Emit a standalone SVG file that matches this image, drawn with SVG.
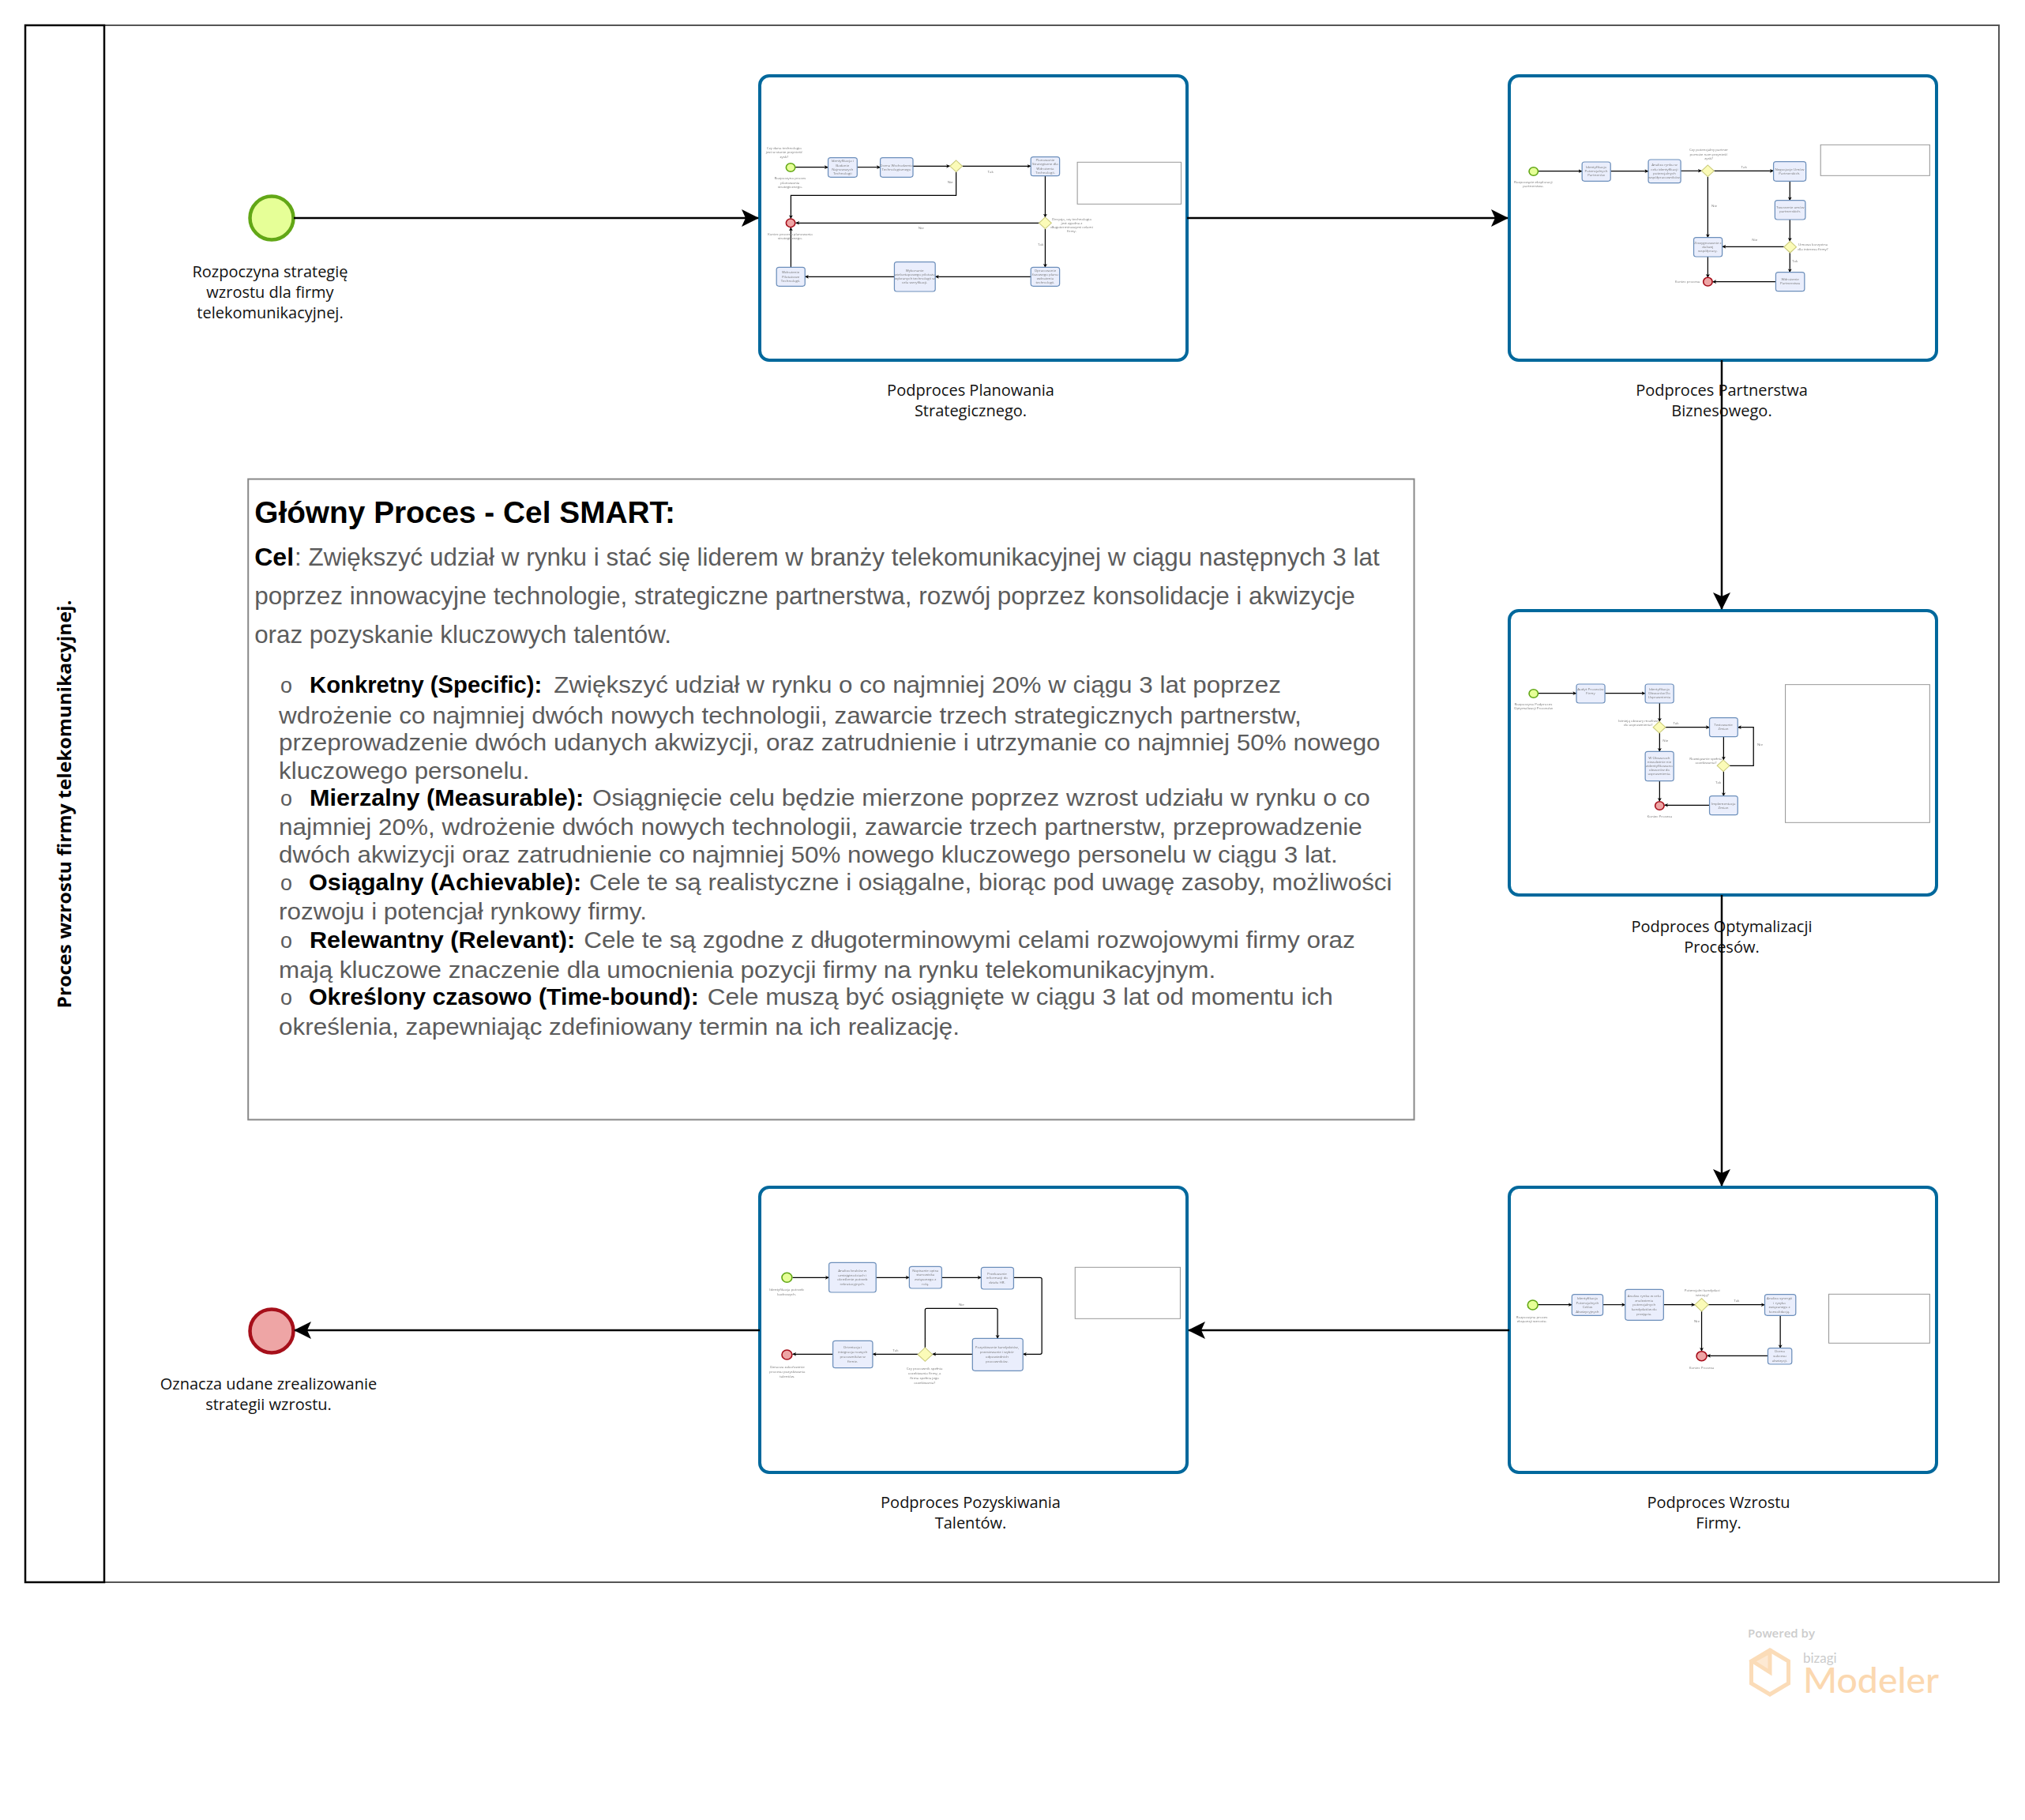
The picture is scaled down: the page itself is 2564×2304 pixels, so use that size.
<svg xmlns="http://www.w3.org/2000/svg" width="2564" height="2304" viewBox="0 0 2564 2304">
<style>
text{font-family:"Open Sans","Noto Sans","Liberation Sans",sans-serif}
.lb{font-size:20px;fill:#111;text-anchor:middle}
.sub{fill:#fff;stroke:#00689c;stroke-width:4}
.box{fill:#fff;stroke:#999;stroke-width:3}
.st{fill:#e6ff97;stroke:#62a716;stroke-width:4.5}
.en{fill:#eea5a5;stroke:#a60f1a;stroke-width:4.5}
.task{fill:#eaeefc;stroke:#6c8fbb;stroke-width:3.5}
.gw{fill:#fbfbb8;stroke:#c9c97a;stroke-width:3}
.t{font-size:12.5px;fill:#777;text-anchor:middle}
.ci{fill:none;stroke:#000;stroke-width:3.5;marker-end:url(#ai)}
.mn{fill:none;stroke:#000;stroke-width:2.5;marker-end:url(#am)}
.im{font-family:"Liberation Sans",Arial,sans-serif;font-size:30px;fill:#5c5c5c}
.imc{font-family:"Liberation Sans",Arial,sans-serif;font-size:32px;fill:#5c5c5c}
.imb{font-family:"Liberation Sans",Arial,sans-serif;font-size:30px;fill:#000;font-weight:bold}
.bu{font-family:"Liberation Sans",Arial,sans-serif;font-size:27px;fill:#5c5c5c}
.hd{font-family:"Liberation Sans",Arial,sans-serif;font-size:39px;fill:#000;font-weight:bold}
</style>
<defs>
<marker id="am" markerUnits="userSpaceOnUse" markerWidth="24" markerHeight="24" refX="21" refY="11" orient="auto"><path d="M0,0L22,11L0,22L5,11Z" fill="#000"/></marker>
<marker id="ai" markerUnits="userSpaceOnUse" markerWidth="16" markerHeight="16" refX="13" refY="7" orient="auto"><path d="M0,0L14,7L0,14L4,7Z" fill="#000"/></marker>
<filter id="soft" x="-5%" y="-5%" width="110%" height="110%"><feGaussianBlur stdDeviation="0.35"/></filter>
</defs>
<rect width="2564" height="2304" fill="#fff"/>
<g id="pool">
<rect x="132" y="32" width="2399" height="1971" fill="#fff" stroke="#555" stroke-width="2"/>
<rect x="32" y="32" width="100" height="1971" fill="#fff" stroke="#000" stroke-width="2.5"/>
<text transform="translate(90,1018) rotate(-90)" text-anchor="middle" font-size="23" font-weight="bold" fill="#000" textLength="517" lengthAdjust="spacingAndGlyphs">Proces wzrostu firmy telekomunikacyjnej.</text>
</g>
<g id="start-main"><circle class="st" cx="344" cy="276" r="27.5"/>
<text class="lb" x="342" y="351">Rozpoczyna strategię</text><text class="lb" x="342" y="377">wzrostu dla firmy</text><text class="lb" x="342" y="403">telekomunikacyjnej.</text></g>
<g id="end-main"><circle class="en" cx="344" cy="1685" r="27.5"/>
<text class="lb" x="340" y="1759">Oznacza udane zrealizowanie</text><text class="lb" x="340" y="1785">strategii wzrostu.</text></g>

<g id="sub1">
<rect class="sub" x="962" y="96" width="541" height="360" rx="12"/>
<text class="lb" x="1229" y="501">Podproces Planowania</text><text class="lb" x="1229" y="527">Strategicznego.</text>
<g transform="translate(960,90) scale(.357,.3333)" filter="url(#soft)">
<rect class="box" x="1132" y="346" width="368" height="159"/>
<g class="inner-connectors">
<path class="ci" d="M132,365H248"/><path class="ci" d="M351,365H433"/><path class="ci" d="M549,361H680"/><path class="ci" d="M724,361H967"/>
<path class="ci" d="M702,383V472H116V560"/><path class="ci" d="M1018,398V555"/><path class="ci" d="M997,577H133"/><path class="ci" d="M1018,599V745"/>
<path class="ci" d="M967,781H628"/><path class="ci" d="M483,781H166"/><path class="ci" d="M116,745V594"/>
</g>
<g id="s1-start"><circle class="st" cx="115" cy="366" r="16"/><text class="t" x="92" y="297">Czy dana technologia</text><text class="t" x="92" y="313">jest w stanie przynieść</text><text class="t" x="92" y="329">zysk?</text><text class="t" x="113" y="412">Rozpoczyna proces</text><text class="t" x="113" y="428">planowania</text><text class="t" x="113" y="444">strategicznego.</text></g>
<g id="s1-t1"><rect class="task" x="248" y="329" width="103" height="74" rx="9"/><text class="t" x="299" y="346">Identyfikacja i</text><text class="t" x="299" y="362">Badanie</text><text class="t" x="299" y="378">Najnowszych</text><text class="t" x="299" y="394">Technologii</text></g>
<g id="s1-t2"><rect class="task" x="433" y="329" width="116" height="74" rx="9"/><text class="t" x="490" y="362">Ocena Wschodzenia</text><text class="t" x="490" y="378">Technologicznego</text></g>
<g id="s1-g1"><path class="gw" d="M702,339L724,361L702,383L680,361Z"/></g>
<g id="s1-t3"><rect class="task" x="967" y="326" width="102" height="72" rx="9"/><text class="t" x="1018" y="342">Planowanie</text><text class="t" x="1018" y="358">Strategiczne dla</text><text class="t" x="1018" y="374">Wdrożenia</text><text class="t" x="1018" y="390">Technologii.</text></g>
<g id="s1-g2"><path class="gw" d="M1018,555L1040,577L1018,599L996,577Z"/><text class="t" x="1112" y="567">Decyzja, czy technologia</text><text class="t" x="1112" y="583">jest zgodna z</text><text class="t" x="1112" y="598">długoterminowymi celami</text><text class="t" x="1112" y="613">firmy.</text></g>
<g id="s1-end"><circle class="en" cx="115" cy="577" r="16"/><text class="t" x="113" y="624">Koniec procesu planowania</text><text class="t" x="113" y="640">strategicznego.</text></g>
<g id="s1-t4"><rect class="task" x="967" y="745" width="102" height="72" rx="9"/><text class="t" x="1018" y="762">Opracowanie</text><text class="t" x="1018" y="778">fazowego planu</text><text class="t" x="1018" y="793">wdrożenia</text><text class="t" x="1018" y="808">technologii.</text></g>
<g id="s1-t5"><rect class="task" x="483" y="725" width="145" height="112" rx="9"/><text class="t" x="555" y="761">Wykonanie</text><text class="t" x="555" y="777">wieloetapowego pilotażu</text><text class="t" x="555" y="793">wybranych technologii w</text><text class="t" x="555" y="808">celu weryfikacji.</text></g>
<g id="s1-t6"><rect class="task" x="65" y="745" width="101" height="72" rx="9"/><text class="t" x="115" y="769">Wdrożenie</text><text class="t" x="115" y="785">Pilotażowe</text><text class="t" x="115" y="801">Technologii.</text></g>
<text class="t" x="824" y="387">Tak</text><text class="t" x="681" y="427">Nie</text><text class="t" x="578" y="599">Nie</text><text class="t" x="1002" y="664">Tak</text>
</g>
</g>

<g id="sub2">
<rect class="sub" x="1911" y="96" width="541" height="360" rx="12"/>
<text class="lb" x="2180" y="501">Podproces Partnerstwa</text><text class="lb" x="2180" y="527">Biznesowego.</text>
<g transform="translate(1910,90) scale(.357,.3333)" filter="url(#soft)">
<rect class="box" x="1107" y="280" width="387" height="117"/>
<g class="inner-connectors">
<path class="ci" d="M106,380H261"/><path class="ci" d="M362,380H496"/><path class="ci" d="M611,379H685"/><path class="ci" d="M729,379H940"/>
<path class="ci" d="M707,401V632"/><path class="ci" d="M998,418V491"/><path class="ci" d="M998,564V646"/><path class="ci" d="M998,690V764"/>
<path class="ci" d="M977,667H758"/><path class="ci" d="M707,705V784"/><path class="ci" d="M948,800H724"/>
</g>
<g id="s2-start"><circle class="st" cx="89" cy="381" r="16"/><text class="t" x="88" y="426">Rozpoczęcie eksploracji</text><text class="t" x="88" y="442">partnerstwa.</text></g>
<g id="s2-t1"><rect class="task" x="261" y="345" width="101" height="73" rx="9"/><text class="t" x="311" y="369">Identyfikacja</text><text class="t" x="311" y="385">Potencjalnych</text><text class="t" x="311" y="400">Partnerów</text></g>
<g id="s2-t2"><rect class="task" x="496" y="336" width="115" height="89" rx="9"/><text class="t" x="553" y="361">Analiza rynku w</text><text class="t" x="553" y="377">celu identyfikacji</text><text class="t" x="553" y="392">potencjalnych</text><text class="t" x="553" y="408">współpracowników.</text></g>
<g id="s2-g1"><path class="gw" d="M707,357L729,379L707,401L685,379Z"/><text class="t" x="710" y="304">Czy potencjalny partner</text><text class="t" x="710" y="320">pomoże nam przynieść</text><text class="t" x="710" y="335">zysk?</text></g>
<g id="s2-t3"><rect class="task" x="940" y="344" width="115" height="74" rx="9"/><text class="t" x="997" y="377">Negocjacje Umów</text><text class="t" x="997" y="392">Partnerskich.</text></g>
<g id="s2-t4"><rect class="task" x="945" y="491" width="108" height="73" rx="9"/><text class="t" x="999" y="523">Tworzenie umów</text><text class="t" x="999" y="538">partnerskich.</text></g>
<g id="s2-g2"><path class="gw" d="M999,646L1021,668L999,690L977,668Z"/><text class="t" x="1080" y="664">Umowa korzystna</text><text class="t" x="1080" y="680">dla interesu firmy?</text></g>
<g id="s2-t5"><rect class="task" x="657" y="632" width="101" height="73" rx="9"/><text class="t" x="707" y="656">Zrezygnowanie z</text><text class="t" x="707" y="672">dalszej</text><text class="t" x="707" y="688">współpracy.</text></g>
<g id="s2-t6"><rect class="task" x="948" y="764" width="102" height="72" rx="9"/><text class="t" x="999" y="796">Wdrożenie</text><text class="t" x="999" y="811">Partnerstwa</text></g>
<g id="s2-end"><circle class="en" cx="707" cy="800" r="16"/><text class="t" x="635" y="804">Koniec procesu</text></g>
<text class="t" x="835" y="369">Tak</text><text class="t" x="730" y="517">Nie</text><text class="t" x="1016" y="725">Tak</text><text class="t" x="873" y="646">Nie</text>
</g>
</g>

<g id="sub3">
<rect class="sub" x="1911" y="773" width="541" height="360" rx="12"/>
<text class="lb" x="2180" y="1180">Podproces Optymalizacji</text><text class="lb" x="2180" y="1206">Procesów.</text>
<g transform="translate(1910,770) scale(.357,.3333)" filter="url(#soft)">
<rect class="box" x="982" y="290" width="512" height="524"/>
<g class="inner-connectors">
<path class="ci" d="M106,323H241"/><path class="ci" d="M342,323H485"/><path class="ci" d="M536,360V430"/><path class="ci" d="M557,452H713"/>
<path class="ci" d="M536,474V544"/><path class="ci" d="M763,488V576"/><path class="ci" d="M784,598H869V452H813"/><path class="ci" d="M763,620V713"/>
<path class="ci" d="M536,656V733"/><path class="ci" d="M713,748H553"/>
</g>
<g id="s3-start"><circle class="st" cx="89" cy="324" r="16"/><text class="t" x="88" y="369">Rozpoczyna Podproces</text><text class="t" x="88" y="384">Optymalizacji Procesów</text></g>
<g id="s3-t1"><rect class="task" x="241" y="288" width="101" height="72" rx="9"/><text class="t" x="291" y="312">Audyt Procesów</text><text class="t" x="291" y="327">Firmy</text></g>
<g id="s3-t2"><rect class="task" x="485" y="288" width="101" height="72" rx="9"/><text class="t" x="535" y="312">Identyfikacja</text><text class="t" x="535" y="327">Obszarów Do</text><text class="t" x="535" y="343">Usprawnienia</text></g>
<g id="s3-g1"><path class="gw" d="M535,430L557,452L535,474L513,452Z"/><text class="t" x="460" y="431">Istnieją obszary możliwe</text><text class="t" x="460" y="446">do usprawnienia?</text></g>
<g id="s3-t3"><rect class="task" x="713" y="416" width="100" height="72" rx="9"/><text class="t" x="762" y="448">Testowanie</text><text class="t" x="762" y="463">Zmian</text></g>
<g id="s3-t4"><rect class="task" x="485" y="544" width="101" height="112" rx="9"/><text class="t" x="535" y="572">W Obszarach</text><text class="t" x="535" y="587">niezależnie nie</text><text class="t" x="535" y="603">zidentyfikowano</text><text class="t" x="535" y="618">obszarów do</text><text class="t" x="535" y="634">usprawnienia.</text></g>
<g id="s3-g2"><path class="gw" d="M762,576L784,598L762,620L740,598Z"/><text class="t" x="700" y="577">Rozwiązanie spełnia</text><text class="t" x="700" y="592">oczekiwania?</text></g>
<g id="s3-t5"><rect class="task" x="713" y="713" width="100" height="72" rx="9"/><text class="t" x="762" y="746">Implementacja</text><text class="t" x="762" y="761">Zmian</text></g>
<g id="s3-end"><circle class="en" cx="536" cy="750" r="16"/><text class="t" x="536" y="795">Koniec Procesu</text></g>
<text class="t" x="594" y="442">Tak</text><text class="t" x="557" y="507">Nie</text><text class="t" x="892" y="522">Nie</text><text class="t" x="744" y="665">Tak</text>
</g>
</g>

<g id="sub4">
<rect class="sub" x="1911" y="1503" width="541" height="361" rx="12"/>
<text class="lb" x="2176" y="1909">Podproces Wzrostu</text><text class="lb" x="2176" y="1935">Firmy.</text>
<g transform="translate(1910,1500) scale(.357,.3333)" filter="url(#soft)">
<rect class="box" x="1136" y="415" width="358" height="186"/>
<g class="inner-connectors">
<path class="ci" d="M104,455H225"/><path class="ci" d="M335,455H414"/><path class="ci" d="M550,455H661"/><path class="ci" d="M709,455H909"/>
<path class="ci" d="M685,480V631"/><path class="ci" d="M964,496V620"/><path class="ci" d="M920,649H704"/>
</g>
<g id="s4-start"><circle class="st" cx="86" cy="456" r="18"/><text class="t" x="83" y="506">Rozpoczyna proces</text><text class="t" x="83" y="523">ekspansji wzrostu.</text></g>
<g id="s4-t1"><rect class="task" x="225" y="416" width="110" height="80" rx="9"/><text class="t" x="280" y="435">Identyfikacja</text><text class="t" x="280" y="452">Potencjalnych</text><text class="t" x="280" y="469">Celów</text><text class="t" x="280" y="486">Akwizycyjnych</text></g>
<g id="s4-t2"><rect class="task" x="414" y="397" width="136" height="117" rx="9"/><text class="t" x="481" y="426">Analiza rynku w celu</text><text class="t" x="481" y="443">znalezienia</text><text class="t" x="481" y="460">potencjalnych</text><text class="t" x="481" y="477">kandydatów do</text><text class="t" x="481" y="494">przejęcia.</text></g>
<g id="s4-g1"><path class="gw" d="M685,431L709,455L685,480L661,455Z"/><text class="t" x="687" y="404">Potencjalni kandydaci</text><text class="t" x="687" y="422">istnieją?</text></g>
<g id="s4-t3"><rect class="task" x="909" y="416" width="110" height="80" rx="9"/><text class="t" x="961" y="435">Analiza synergii</text><text class="t" x="961" y="452">i ryzyka</text><text class="t" x="961" y="469">związanego z</text><text class="t" x="961" y="486">konsolidacją.</text></g>
<g id="s4-t4"><rect class="task" x="920" y="620" width="85" height="61" rx="9"/><text class="t" x="962" y="637">Ocena</text><text class="t" x="962" y="654">sukcesu</text><text class="t" x="962" y="671">akwizycji.</text></g>
<g id="s4-end"><circle class="en" cx="685" cy="650" r="18"/><text class="t" x="685" y="698">Koniec Procesu</text></g>
<text class="t" x="809" y="445">Tak</text><text class="t" x="668" y="522">Nie</text>
</g>
</g>

<g id="sub5">
<rect class="sub" x="962" y="1503" width="541" height="361" rx="12"/>
<text class="lb" x="1229" y="1909">Podproces Pozyskiwania</text><text class="lb" x="1229" y="1935">Talentów.</text>
<g transform="translate(960,1500) scale(.357,.3333)" filter="url(#soft)">
<rect class="box" x="1124" y="313" width="373" height="195"/>
<g class="inner-connectors">
<path class="ci" d="M122,352H251"/><path class="ci" d="M418,352H536"/><path class="ci" d="M651,352H791"/><path class="ci" d="M906,352H1000Q1006,352 1006,358V637Q1006,643 1000,643H939"/>
<path class="ci" d="M592,618V475Q592,469 598,469H843Q849,469 849,475V583"/><path class="ci" d="M760,643H618"/><path class="ci" d="M567,643H406"/><path class="ci" d="M265,643H122"/>
</g>
<g id="s5-start"><circle class="st" cx="102" cy="352" r="18"/><text class="t" x="101" y="403">Identyfikacja potrzeb</text><text class="t" x="101" y="421">kadrowych.</text></g>
<g id="s5-t1"><rect class="task" x="251" y="295" width="167" height="113" rx="9"/><text class="t" x="334" y="329">Analiza braków w</text><text class="t" x="334" y="347">umiejętnościach i</text><text class="t" x="334" y="364">określenie potrzeb</text><text class="t" x="334" y="382">rekrutacyjnych.</text></g>
<g id="s5-t2"><rect class="task" x="536" y="310" width="115" height="83" rx="9"/><text class="t" x="593" y="329">Napisanie opisu</text><text class="t" x="593" y="346">stanowiska</text><text class="t" x="593" y="364">związanego z</text><text class="t" x="593" y="382">rolą.</text></g>
<g id="s5-t3"><rect class="task" x="791" y="313" width="115" height="83" rx="9"/><text class="t" x="847" y="341">Przekazanie</text><text class="t" x="847" y="358">informacji do</text><text class="t" x="847" y="375">działu HR.</text></g>
<g id="s5-t4"><rect class="task" x="760" y="583" width="179" height="123" rx="9"/><text class="t" x="847" y="622">Pozyskiwanie kandydatów,</text><text class="t" x="847" y="640">przesiewanie i wybór</text><text class="t" x="847" y="657">odpowiednich</text><text class="t" x="847" y="675">pracowników.</text></g>
<g id="s5-g1"><path class="gw" d="M592,618L618,644L592,670L566,644Z"/><text class="t" x="590" y="703">Czy pracownik spełnia</text><text class="t" x="590" y="721">oczekiwania firmy, a</text><text class="t" x="590" y="739">firma spełnia jego</text><text class="t" x="590" y="757">oczekiwania?</text></g>
<g id="s5-t5"><rect class="task" x="265" y="592" width="141" height="103" rx="9"/><text class="t" x="335" y="622">Orientacja i</text><text class="t" x="335" y="640">integracja nowych</text><text class="t" x="335" y="657">pracowników w</text><text class="t" x="335" y="675">firmie.</text></g>
<g id="s5-end"><circle class="en" cx="102" cy="645" r="18"/><text class="t" x="103" y="696">Oznacza zakończenie</text><text class="t" x="103" y="714">procesu pozyskiwania</text><text class="t" x="103" y="732">talentów.</text></g>
<text class="t" x="721" y="459">Nie</text><text class="t" x="487" y="632">Tak</text>
</g>
</g>

<g id="smart-goal" transform="scale(.9975)">
<rect x="315" y="608" width="1480" height="813" fill="#fff" stroke="#888" stroke-width="2"/>
<text class="hd" x="323" y="664" textLength="534" lengthAdjust="spacingAndGlyphs">Główny Proces - Cel SMART:</text>
<text class="imb" style="font-size:32px" x="323" y="718" textLength="50" lengthAdjust="spacingAndGlyphs">Cel</text><text class="imc" x="374" y="718" textLength="1377" lengthAdjust="spacingAndGlyphs">: Zwiększyć udział w rynku i stać się liderem w branży telekomunikacyjnej w ciągu następnych 3 lat</text>
<text class="imc" x="323" y="767" textLength="1397" lengthAdjust="spacingAndGlyphs">poprzez innowacyjne technologie, strategiczne partnerstwa, rozwój poprzez konsolidacje i akwizycje</text>
<text class="imc" x="323" y="816" textLength="529" lengthAdjust="spacingAndGlyphs">oraz pozyskanie kluczowych talentów.</text>
<text class="bu" x="356" y="879">o</text><text class="imb" x="393" y="879" textLength="295" lengthAdjust="spacingAndGlyphs">Konkretny (Specific):</text><text class="im" x="703" y="879" textLength="923" lengthAdjust="spacingAndGlyphs">Zwiększyć udział w rynku o co najmniej 20% w ciągu 3 lat poprzez</text>
<text class="im" x="354" y="918" textLength="1298" lengthAdjust="spacingAndGlyphs">wdrożenie co najmniej dwóch nowych technologii, zawarcie trzech strategicznych partnerstw,</text>
<text class="im" x="354" y="952" textLength="1398" lengthAdjust="spacingAndGlyphs">przeprowadzenie dwóch udanych akwizycji, oraz zatrudnienie i utrzymanie co najmniej 50% nowego</text>
<text class="im" x="354" y="988" textLength="318" lengthAdjust="spacingAndGlyphs">kluczowego personelu.</text>
<text class="bu" x="356" y="1023">o</text><text class="imb" x="393" y="1023" textLength="348" lengthAdjust="spacingAndGlyphs">Mierzalny (Measurable):</text><text class="im" x="752" y="1023" textLength="987" lengthAdjust="spacingAndGlyphs">Osiągnięcie celu będzie mierzone poprzez wzrost udziału w rynku o co</text>
<text class="im" x="354" y="1060" textLength="1375" lengthAdjust="spacingAndGlyphs">najmniej 20%, wdrożenie dwóch nowych technologii, zawarcie trzech partnerstw, przeprowadzenie</text>
<text class="im" x="354" y="1095" textLength="1344" lengthAdjust="spacingAndGlyphs">dwóch akwizycji oraz zatrudnienie co najmniej 50% nowego kluczowego personelu w ciągu 3 lat.</text>
<text class="bu" x="356" y="1130">o</text><text class="imb" x="392" y="1130" textLength="346" lengthAdjust="spacingAndGlyphs">Osiągalny (Achievable):</text><text class="im" x="748" y="1130" textLength="1019" lengthAdjust="spacingAndGlyphs">Cele te są realistyczne i osiągalne, biorąc pod uwagę zasoby, możliwości</text>
<text class="im" x="354" y="1167" textLength="467" lengthAdjust="spacingAndGlyphs">rozwoju i potencjał rynkowy firmy.</text>
<text class="bu" x="356" y="1203">o</text><text class="imb" x="393" y="1203" textLength="337" lengthAdjust="spacingAndGlyphs">Relewantny (Relevant):</text><text class="im" x="741" y="1203" textLength="979" lengthAdjust="spacingAndGlyphs">Cele te są zgodne z długoterminowymi celami rozwojowymi firmy oraz</text>
<text class="im" x="354" y="1241" textLength="1189" lengthAdjust="spacingAndGlyphs">mają kluczowe znaczenie dla umocnienia pozycji firmy na rynku telekomunikacyjnym.</text>
<text class="bu" x="356" y="1275">o</text><text class="imb" x="392" y="1275" textLength="495" lengthAdjust="spacingAndGlyphs">Określony czasowo (Time-bound):</text><text class="im" x="898" y="1275" textLength="794" lengthAdjust="spacingAndGlyphs">Cele muszą być osiągnięte w ciągu 3 lat od momentu ich</text>
<text class="im" x="354" y="1313" textLength="864" lengthAdjust="spacingAndGlyphs">określenia, zapewniając zdefiniowany termin na ich realizację.</text>
</g>

<g id="connectors">
<path class="mn" d="M372,276H960"/>
<path class="mn" d="M1503,276H1909"/>
<path class="mn" d="M2180,456V771"/>
<path class="mn" d="M2180,1133V1501"/>
<path class="mn" d="M1911,1684H1505"/>
<path class="mn" d="M962,1684H373"/>
</g>

<g id="watermark">
<text x="2213" y="2073" font-size="15" font-weight="600" fill="#ccc">Powered by</text>
<path d="M2241,2089L2264.5,2103V2131L2241,2145L2217.5,2131V2103Z" fill="#fff" stroke="#fbdcb8" stroke-width="5"/>
<path d="M2241,2091V2117L2219,2103Z" fill="#fde9d3" stroke="#fbdcb8" stroke-width="5"/>
<text x="2283" y="2105" style="font-family:Lato,sans-serif;font-size:17px" fill="#ccc">bizagi</text>
<text x="2283" y="2143" style="font-family:Lato,sans-serif;font-size:44px;font-weight:500" fill="#fbd8b0" textLength="172" lengthAdjust="spacingAndGlyphs">Modeler</text>
</g>
</svg>
